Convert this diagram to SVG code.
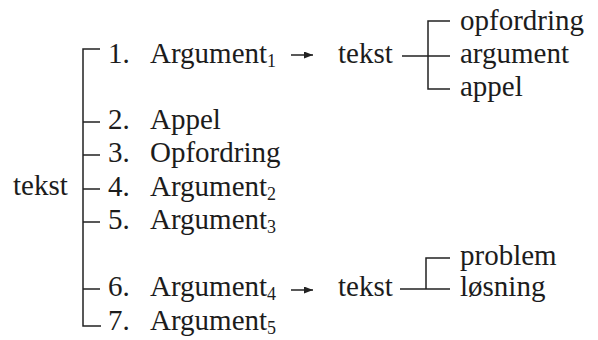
<svg xmlns="http://www.w3.org/2000/svg" width="598" height="340" viewBox="0 0 598 340">
<style>
text{font-family:"Times New Roman","Liberation Serif","DejaVu Serif","Noto Serif",Times,serif;font-size:29px;fill:#1c1c1c}
.sub{font-size:18px}
.ln{fill:none;stroke:#222;stroke-width:1.5}
</style>
<defs>
<marker id="arr" markerWidth="9" markerHeight="7" refX="9" refY="3.5" orient="auto" markerUnits="userSpaceOnUse"><path d="M0,0 L9,3.5 L0,7 Z" fill="#222"/></marker>
</defs>
<rect width="598" height="340" fill="#fff"/>
<g id="connectors">
<path class="ln" d="M100,49 H83 V326 H101"/>
<path class="ln" d="M83,122 H100 M83,155 H100 M83,189 H100 M83,222 H100 M83,289 H100"/>
<path class="ln" d="M291,55 H313" marker-end="url(#arr)"/>
<path class="ln" d="M291,290 H313" marker-end="url(#arr)"/>
<path class="ln" d="M450,21 H428 V89 H450 M402,56 H450"/>
<path class="ln" d="M450,258 H426 V289 M400,289 H450"/>
</g>
<g id="root"><text x="13" y="195">tekst</text></g>
<g id="item1"><text x="108" y="63">1.</text><text x="150" y="63">Argument<tspan class="sub" dy="4">1</tspan></text></g>
<g id="item2"><text x="108" y="129">2.</text><text x="150" y="129">Appel</text></g>
<g id="item3"><text x="108" y="162">3.</text><text x="150" y="162">Opfordring</text></g>
<g id="item4"><text x="108" y="196">4.</text><text x="150" y="196">Argument<tspan class="sub" dy="4">2</tspan></text></g>
<g id="item5"><text x="108" y="229">5.</text><text x="150" y="229">Argument<tspan class="sub" dy="4">3</tspan></text></g>
<g id="item6"><text x="108" y="296">6.</text><text x="150" y="296">Argument<tspan class="sub" dy="4">4</tspan></text></g>
<g id="item7"><text x="108" y="330">7.</text><text x="150" y="330">Argument<tspan class="sub" dy="4">5</tspan></text></g>
<g id="tekst1"><text x="338" y="63">tekst</text></g>
<g id="opfordring"><text x="460" y="30">opfordring</text></g>
<g id="argument"><text x="460" y="63">argument</text></g>
<g id="appel"><text x="460" y="96">appel</text></g>
<g id="tekst6"><text x="338" y="296">tekst</text></g>
<g id="problem"><text x="460" y="265">problem</text></g>
<g id="losning"><text x="460" y="296">løsning</text></g>
</svg>
